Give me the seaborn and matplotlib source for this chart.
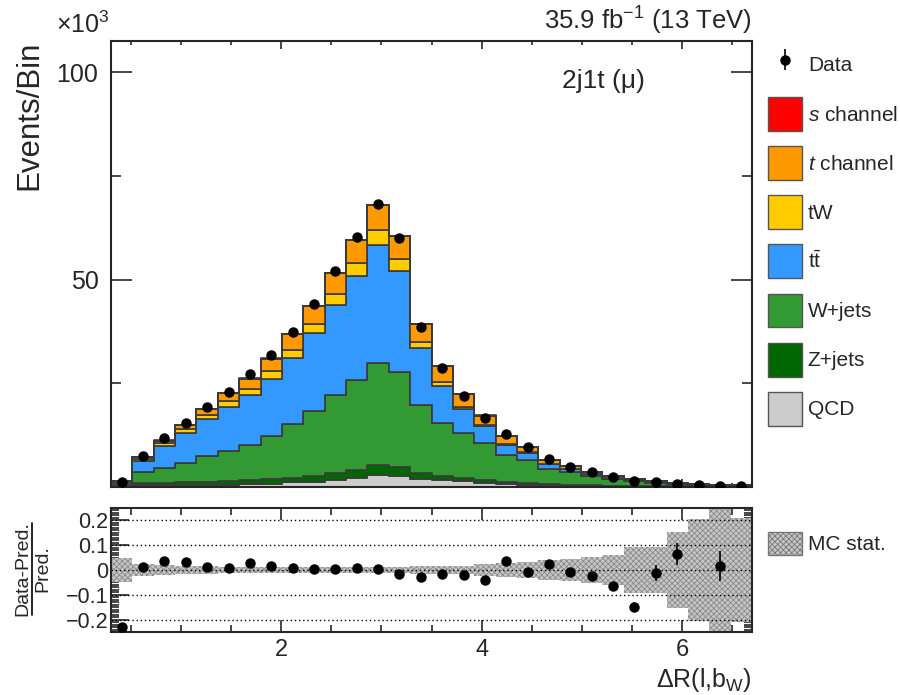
import numpy as np
import pandas as pd
import matplotlib
matplotlib.use("Agg")
import matplotlib.pyplot as plt
import seaborn as sns
from matplotlib.patches import Patch
from matplotlib.lines import Line2D
from matplotlib.ticker import MultipleLocator, FixedLocator, FuncFormatter

# ---- binning: 30 bins in dR(l, b_W) ----
x_lo, x_hi, n_bins = 0.3, 6.7, 30
edges = np.linspace(x_lo, x_hi, n_bins + 1)
centers = 0.5 * (edges[:-1] + edges[1:])

# ---- stacked MC (x 10^3 events / bin) ----
schan = [0.005, 0.02, 0.03, 0.04, 0.05, 0.06, 0.07, 0.08, 0.09, 0.10, 0.11, 0.12, 0.12, 0.11,
         0.08, 0.06, 0.05, 0.04, 0.03, 0.02, 0.02, 0.015, 0.01, 0.01, 0.005, 0.005, 0.004, 0.003, 0.002, 0.002]
tchan = [0.15, 0.5, 0.7, 1.0, 1.5, 1.9, 2.5, 3.0, 3.85, 4.4, 5.0, 5.5, 6.0, 5.4,
         4.3, 3.8, 3.0, 2.3, 2.0, 1.3, 1.0, 0.7, 0.55, 0.4, 0.3, 0.2, 0.15, 0.1, 0.07, 0.05]
tw = [0.05, 0.4, 0.6, 0.9, 1.0, 1.3, 1.45, 1.8, 2.0, 2.2, 2.6, 3.2, 3.6, 3.05,
      1.6, 0.9, 0.55, 0.3, 0.2, 0.12, 0.1, 0.06, 0.05, 0.04, 0.03, 0.02, 0.015, 0.01, 0.01, 0.01]
ttbar = [0.55, 2.8, 5.3, 7.1, 8.8, 10.7, 12.0, 13.8, 15.9, 18.7, 21.7, 24.9, 28.5, 24.3,
         13.7, 8.9, 5.8, 3.9, 2.4, 1.7, 1.1, 0.65, 0.4, 0.3, 0.2, 0.12, 0.08, 0.05, 0.04, 0.03]
wjets = [0.5, 2.6, 3.6, 4.8, 6.3, 7.3, 8.5, 10.4, 13.0, 15.6, 18.9, 21.7, 24.4, 22.8,
         16.4, 12.8, 10.9, 9.0, 6.4, 5.5, 3.6, 3.0, 2.25, 1.55, 1.15, 0.87, 0.56, 0.39, 0.29, 0.23]
zjets = [0.05, 0.5, 0.6, 0.6, 0.7, 0.8, 1.0, 1.1, 1.0, 1.4, 1.6, 2.1, 2.5, 2.2,
         1.4, 1.1, 0.7, 0.7, 0.6, 0.5, 0.4, 0.3, 0.25, 0.2, 0.15, 0.1, 0.08, 0.06, 0.05, 0.04]
qcd = [0.1, 0.4, 0.4, 0.5, 0.5, 0.6, 0.7, 0.8, 1.1, 1.3, 1.7, 2.1, 2.9, 2.7,
       1.9, 1.6, 1.4, 1.0, 0.7, 0.5, 0.4, 0.3, 0.2, 0.15, 0.1, 0.08, 0.06, 0.05, 0.04, 0.03]

data = [1.1, 7.4, 11.7, 15.5, 19.3, 23.0, 27.2, 31.7, 37.3, 44.0, 52.1, 60.2, 68.3, 59.9,
        38.5, 28.7, 21.9, 16.7, 12.7, 9.7, 6.8, 4.9, 3.6, 2.4, 1.55, 1.1, 0.75, 0.5, 0.35, 0.3]

# ---- ratio panel ----
ratio = [-0.23, 0.013, 0.038, 0.034, 0.012, 0.007, 0.030, 0.015, 0.007, 0.003, 0.005, 0.007, 0.003, -0.016,
         -0.027, -0.016, -0.022, -0.041, 0.038, -0.007, 0.024, -0.007, -0.024, -0.065, -0.149, -0.011,
         0.065, np.nan, 0.016, np.nan]
ratio_err = [0.01, 0.003, 0.002, 0.002, 0.002, 0.002, 0.002, 0.002, 0.002, 0.002, 0.002, 0.002, 0.002, 0.002,
             0.002, 0.003, 0.003, 0.004, 0.004, 0.005, 0.006, 0.008, 0.016, 0.018, 0.02, 0.032, 0.044,
             0.05, 0.061, 0.07]
mc_stat = [0.05, 0.026, 0.022, 0.018, 0.015, 0.014, 0.012, 0.011, 0.011, 0.011, 0.011, 0.011, 0.012, 0.014,
           0.016, 0.016, 0.018, 0.024, 0.028, 0.034, 0.041, 0.045, 0.053, 0.059, 0.092, 0.092, 0.154,
           0.206, 0.3, 0.21]

procs = [r"$s$ channel", r"$t$ channel", "tW", r"t$\bar{\mathrm{t}}$", "W+jets", "Z+jets", "QCD"]
yields = [schan, tchan, tw, ttbar, wjets, zjets, qcd]
colors = ["#FF0000", "#FF9900", "#FFCC00", "#3399FF", "#339933", "#006600", "#CCCCCC"]

mc = pd.concat([pd.DataFrame({"x": centers, "w": y, "proc": p}) for p, y in zip(procs, yields)],
               ignore_index=True)

sns.set_style("ticks")
plt.rcParams["font.family"] = ["Liberation Sans", "DejaVu Sans"]
plt.rcParams["mathtext.fontset"] = "custom"
plt.rcParams["mathtext.rm"] = "Liberation Sans"
plt.rcParams["mathtext.it"] = "Liberation Sans:italic"
plt.rcParams["mathtext.bf"] = "Liberation Sans:bold"
plt.rcParams["hatch.linewidth"] = 0.6

W, H = 900, 695
fig = plt.figure(figsize=(9, 6.95), dpi=100)
px = lambda x0, y0, x1, y1: [x0 / W, 1 - y1 / H, (x1 - x0) / W, (y1 - y0) / H]
ax = fig.add_axes(px(111, 41, 752, 487))
ax2 = fig.add_axes(px(111, 508, 752, 632))

sns.histplot(data=mc, x="x", weights="w", hue="proc", hue_order=procs, multiple="stack",
             element="step", bins=n_bins, binrange=(x_lo, x_hi), palette=colors,
             edgecolor="#3a3a3a", linewidth=1.2, alpha=1, legend=False, ax=ax)
derr = np.sqrt(np.array(data) * 1e3) / 1e3
hdata = ax.errorbar(centers, data, yerr=derr, fmt="o", color="black", ms=6.5,
                    elinewidth=1.2, capsize=0, zorder=5)

ax.set_xlim(x_lo, x_hi)
ax.set_ylim(0, 107.5)
ax.set_xlabel("")
ax.set_ylabel("Events/Bin", fontsize=22.5, loc="top", labelpad=9)
ax.xaxis.set_major_locator(FixedLocator([2, 4, 6]))
ax.xaxis.set_minor_locator(MultipleLocator(0.5))
ax.set_xticklabels([])
ax.yaxis.set_major_locator(FixedLocator([0, 50, 100]))
ax.yaxis.set_minor_locator(MultipleLocator(25))
ax.yaxis.set_major_formatter(FuncFormatter(lambda v, p: "" if v == 0 else f"{v:.0f}"))
ax.tick_params(which="both", direction="in", top=True, right=True, width=1.2)
ax.tick_params(axis="y", which="major", length=15, labelsize=18, pad=9)
ax.tick_params(axis="y", which="minor", length=7.5)
ax.tick_params(axis="x", which="major", length=6)
ax.tick_params(axis="x", which="minor", length=3)

# ratio panel
ax2.stairs(np.array(mc_stat), edges, baseline=-np.array(mc_stat), fill=True,
           facecolor="#c6c6c6", edgecolor="#8a8a8a", hatch="xxxxxx", linewidth=0)
for g in [-0.2, -0.1, 0, 0.1, 0.2]:
    ax2.axhline(g, color="black", ls=(0, (1, 2)), lw=1)
ax2.errorbar(centers, ratio, yerr=ratio_err, fmt="o", color="black", ms=6.5,
             elinewidth=1.2, capsize=0, zorder=5)
ax2.set_xlim(x_lo, x_hi)
ax2.set_ylim(-0.25, 0.25)
ax2.xaxis.set_major_locator(FixedLocator([2, 4, 6]))
ax2.xaxis.set_minor_locator(MultipleLocator(0.5))
ax2.yaxis.set_major_locator(MultipleLocator(0.1))
ax2.yaxis.set_minor_locator(MultipleLocator(0.01))
ax2.yaxis.set_major_formatter(FuncFormatter(lambda v, p: "0" if abs(v) < 1e-9 else f"{v:.1f}".replace("-", "\u2212")))
ax2.tick_params(which="both", direction="in", top=True, right=True, width=1.2)
ax2.tick_params(axis="y", which="major", length=13, labelsize=15.5, pad=2)
ax2.tick_params(axis="y", which="minor", length=6)
ax2.tick_params(axis="x", which="major", length=8.5, labelsize=17, pad=5)
ax2.tick_params(axis="x", which="minor", length=4.8)
ax2.set_xlabel("\u0394R(l,b$_{\\mathrm{W}}$)", fontsize=18, loc="right", labelpad=4)
ax2.set_ylabel("")

for a in (ax, ax2):
    for s in a.spines.values():
        s.set_linewidth(1.5)
        s.set_visible(True)

# texts
fig.text(110 / W, 1 - 33 / H, "\u00d710$^{3}$", fontsize=18, ha="right", va="baseline")
fig.text(752 / W, 1 - 30 / H, "35.9 fb$^{-1}$ (13 TeV)", fontsize=18.5, ha="right", va="baseline")
ax.text((562 - 111) / 641, (487 - 88) / 446, "2j1t (\u03bc)", transform=ax.transAxes,
        fontsize=19, ha="left", va="baseline")

# ratio y label as a fraction
fig.text(23 / W, 1 - 569 / H, "Data-Pred.", fontsize=14, rotation=90, ha="center", va="center")
fig.text(43 / W, 1 - 569 / H, "Pred.", fontsize=14, rotation=90, ha="center", va="center")
fig.add_artist(Line2D([32 / W, 32 / W], [1 - 523 / H, 1 - 615 / H], color="black", lw=1.2,
                      transform=fig.transFigure))

# legends
handles = [hdata] + [Patch(facecolor=c, edgecolor="#555555", lw=1) for c in colors]
labels = ["Data"] + procs
fig.legend(handles, labels, loc="upper left", bbox_to_anchor=(768 / W, 1 - 48 / H),
           frameon=False, fontsize=15, handlelength=1.63, handleheight=2.12,
           labelspacing=0.735, handletextpad=0.28, borderpad=0, borderaxespad=0)
fig.legend([Patch(facecolor="#c6c6c6", edgecolor="#777777", hatch="xxxxxx", lw=1)], ["MC stat."],
           loc="upper left", bbox_to_anchor=(768 / W, 1 - 532 / H), frameon=False, fontsize=15,
           handlelength=1.63, handleheight=1.3, handletextpad=0.28, borderpad=0, borderaxespad=0)

fig.savefig("out.png", dpi=100)
